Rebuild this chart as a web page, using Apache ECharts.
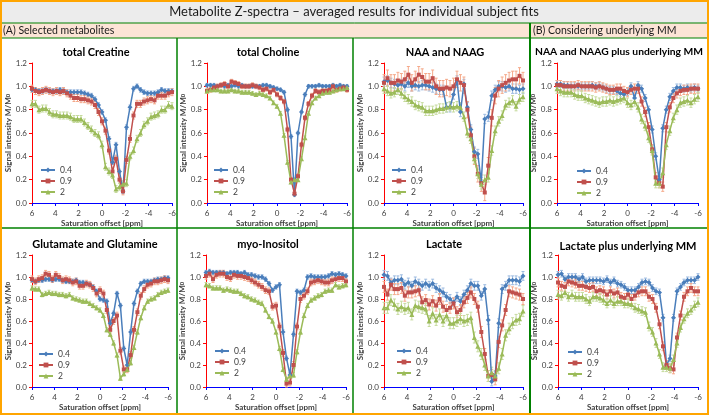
<!DOCTYPE html>
<html><head><meta charset="utf-8">
<script src="https://cdn.jsdelivr.net/npm/echarts@6/dist/echarts.min.js"></script>
<style>html,body{margin:0;padding:0;background:#fff}#c{width:709px;height:416px}</style>
</head><body><div id="c"></div>
<script>
const offsets = [6,5.7,5.4,5.1,4.8,4.5,4.2,3.9,3.6,3.3,3,2.7,2.4,2.1,1.8,1.5,1.2,0.9,0.6,0.3,0,-0.3,-0.6,-0.9,-1.2,-1.5,-1.8,-2.1,-2.4,-2.7,-3,-3.3,-3.6,-3.9,-4.2,-4.5,-4.8,-5.1,-5.4,-5.7,-6];
const seriesNames = ['0.4','0.9','2'];
const panelTitles = ['total Creatine','total Choline','NAA and NAAG','NAA and NAAG plus underlying MM','Glutamate and Glutamine','myo-Inositol','Lactate','Lactate plus underlying MM'];

const crB = [0.97,0.97,0.96,0.96,0.97,0.96,0.96,0.96,0.97,0.96,0.95,0.95,0.95,0.95,0.95,0.94,0.93,0.92,0.89,0.84,0.78,0.71,0.55,0.35,0.5,0.27,0.1,0.65,0.82,0.98,1.0,0.97,0.95,0.94,0.94,0.94,0.95,0.97,0.96,0.96,0.96];
const crR = [0.98,0.96,0.95,0.96,0.97,0.96,0.95,0.96,0.95,0.96,0.94,0.92,0.9,0.9,0.89,0.89,0.88,0.87,0.84,0.78,0.7,0.62,0.45,0.27,0.38,0.2,0.1,0.37,0.55,0.75,0.85,0.85,0.87,0.88,0.89,0.88,0.92,0.92,0.92,0.94,0.95];
const crG = [0.85,0.85,0.8,0.81,0.81,0.78,0.76,0.76,0.75,0.75,0.75,0.74,0.72,0.72,0.72,0.69,0.66,0.63,0.6,0.58,0.5,0.31,0.27,0.24,0.12,0.14,0.16,0.17,0.4,0.45,0.55,0.6,0.67,0.7,0.74,0.75,0.76,0.8,0.8,0.84,0.83];
const choB = [1.01,1.01,1.01,1.0,1.01,1.0,1.01,1.0,1.01,1.0,1.01,1.0,1.0,1.0,1.0,1.0,1.01,1.01,1.0,0.99,0.98,0.97,0.95,0.8,0.57,0.07,0.6,0.78,0.93,1.0,1.0,1.0,1.01,1.0,1.0,1.0,1.01,1.0,1.01,1.0,1.0];
const choR = [0.96,0.97,0.99,1.0,1.01,1.02,1.0,1.04,1.03,1.02,1.0,1.0,1.0,1.01,1.0,0.99,0.97,0.98,0.95,0.97,0.93,0.9,0.87,0.63,0.2,0.08,0.23,0.5,0.73,0.85,0.92,0.96,0.95,0.96,0.96,0.97,1.0,0.97,0.98,0.99,0.97];
const choG = [0.96,0.97,0.97,0.97,0.96,0.96,0.96,0.97,0.96,0.96,0.95,0.95,0.95,0.94,0.93,0.94,0.93,0.92,0.9,0.86,0.83,0.77,0.58,0.35,0.18,0.2,0.2,0.38,0.56,0.77,0.86,0.9,0.92,0.94,0.95,0.95,0.96,0.97,0.98,0.98,0.99];
const naaB = [1.04,1.05,1.03,1.02,1.01,1.02,1.0,1.03,1.0,1.01,1.0,1.01,1.01,1.0,0.99,0.98,0.97,0.97,0.82,0.82,0.93,1.05,0.78,1.02,0.82,0.63,0.44,0.42,0.18,0.72,0.74,0.92,0.97,1.0,1.0,0.99,1.0,0.98,0.98,0.97,0.98];
const naaR = [1.03,1.07,1.03,1.03,1.05,1.04,1.06,1.1,1.03,1.06,1.1,1.08,1.04,1.04,1.07,1.0,0.98,0.98,0.99,0.98,1.0,1.06,1.03,1.01,0.8,0.58,0.4,0.25,0.17,0.09,0.32,0.73,0.92,0.98,1.01,1.03,1.05,1.06,1.06,1.09,1.05];
const naaG = [0.98,0.96,0.94,0.95,0.97,0.94,0.91,0.89,0.87,0.84,0.83,0.82,0.79,0.79,0.79,0.8,0.81,0.81,0.82,0.83,0.82,0.83,0.82,0.74,0.6,0.55,0.38,0.25,0.16,0.2,0.22,0.45,0.62,0.7,0.75,0.84,0.86,0.88,0.83,0.89,0.91];
const nmB = [1.02,1.02,1.01,1.01,1.0,1.0,1.0,1.0,1.0,1.0,1.01,1.0,1.0,0.99,0.98,0.97,0.97,0.96,0.94,0.93,0.95,1.0,0.9,1.01,0.98,0.9,0.8,0.63,0.4,0.2,0.64,0.8,0.91,0.96,0.99,0.99,0.98,0.99,0.98,0.99,0.98];
const nmR = [1.01,1.01,1.0,1.0,1.0,1.0,1.01,1.0,1.0,1.0,1.0,0.99,1.0,0.99,0.98,0.97,0.97,0.98,0.98,0.96,0.95,0.97,0.98,0.98,0.87,0.78,0.65,0.46,0.22,0.17,0.14,0.65,0.82,0.9,0.94,0.96,0.97,0.97,0.98,0.98,0.98];
const nmG = [0.98,0.96,0.95,0.95,0.95,0.93,0.92,0.92,0.9,0.89,0.88,0.87,0.86,0.87,0.87,0.88,0.87,0.88,0.89,0.9,0.86,0.84,0.87,0.82,0.72,0.66,0.56,0.45,0.17,0.17,0.26,0.5,0.62,0.73,0.8,0.86,0.87,0.88,0.86,0.89,0.91];
const gluB = [0.97,0.96,0.97,0.97,0.98,0.98,0.97,0.98,0.98,0.97,0.96,0.96,0.96,0.97,0.95,0.95,0.94,0.93,0.91,0.87,0.8,0.79,0.78,0.58,0.67,0.85,0.74,0.35,0.2,0.5,0.76,0.87,0.94,0.96,0.96,0.96,0.97,0.98,0.98,0.99,0.99];
const gluR = [0.98,0.96,0.98,0.99,1.03,1.02,0.98,1.02,1.0,0.97,0.98,0.97,0.95,0.96,0.92,0.92,0.94,0.93,0.9,0.85,0.88,0.85,0.7,0.52,0.6,0.65,0.33,0.16,0.16,0.29,0.52,0.68,0.83,0.89,0.93,0.94,0.96,0.96,0.97,0.98,0.97];
const gluG = [0.9,0.89,0.89,0.84,0.85,0.86,0.85,0.85,0.84,0.84,0.83,0.84,0.81,0.8,0.79,0.78,0.78,0.76,0.74,0.72,0.7,0.65,0.52,0.48,0.4,0.29,0.08,0.12,0.16,0.22,0.36,0.5,0.63,0.72,0.78,0.8,0.81,0.84,0.86,0.87,0.88];
const myoB = [1.04,1.05,1.04,1.04,1.04,1.04,1.03,1.04,1.04,1.04,1.03,1.04,1.02,1.02,1.01,1.0,1.0,0.98,0.94,0.88,0.91,0.93,0.5,0.26,0.11,0.48,0.87,0.86,0.88,1.0,1.01,1.0,1.0,1.0,1.0,1.01,1.03,1.02,1.03,1.02,1.01];
const myoR = [1.01,1.03,0.98,1.02,1.03,1.03,1.0,0.99,1.02,1.01,1.01,1.0,0.99,0.97,0.95,0.93,0.91,0.88,0.87,0.73,0.74,0.55,0.31,0.03,0.04,0.2,0.55,0.8,0.83,0.87,0.95,0.96,0.97,0.96,0.95,0.95,0.97,0.98,0.99,0.99,0.96];
const myoG = [0.93,0.92,0.9,0.9,0.9,0.88,0.89,0.88,0.87,0.87,0.85,0.83,0.82,0.8,0.79,0.77,0.76,0.7,0.64,0.6,0.5,0.35,0.16,0.07,0.1,0.11,0.32,0.5,0.65,0.74,0.79,0.81,0.83,0.84,0.87,0.88,0.88,0.93,0.91,0.92,0.93];
const lacB = [1.02,1.01,0.95,0.97,0.97,0.98,0.93,0.95,0.92,0.96,0.94,0.92,0.94,0.92,0.94,0.9,0.88,0.86,0.82,0.8,0.77,0.82,0.78,0.84,0.88,0.94,0.92,0.92,0.83,0.89,0.61,0.05,0.1,0.58,0.89,0.92,0.97,0.97,0.97,0.96,1.01];
const lacR = [0.91,0.84,0.93,0.89,0.89,0.9,0.83,0.86,0.86,0.87,0.88,0.77,0.79,0.75,0.78,0.74,0.8,0.73,0.7,0.72,0.76,0.68,0.7,0.77,0.81,0.86,0.8,0.73,0.5,0.3,0.1,0.11,0.07,0.41,0.56,0.7,0.87,0.86,0.85,0.84,0.8];
const lacG = [0.72,0.72,0.79,0.75,0.71,0.73,0.71,0.72,0.66,0.74,0.73,0.72,0.71,0.6,0.67,0.61,0.66,0.6,0.65,0.58,0.58,0.6,0.62,0.6,0.61,0.63,0.45,0.37,0.3,0.2,0.1,0.13,0.1,0.17,0.3,0.47,0.53,0.58,0.61,0.62,0.69];
const lmB = [1.02,1.03,0.98,1.0,1.0,1.0,0.98,1.0,0.96,0.97,0.97,0.97,0.97,0.96,0.98,0.95,0.97,0.94,0.93,0.91,0.88,0.88,0.88,0.91,0.95,0.96,0.95,0.9,0.87,0.86,0.63,0.2,0.26,0.63,0.87,0.91,0.95,0.97,0.97,0.97,1.0];
const lmR = [0.95,0.92,0.91,0.96,0.95,0.94,0.92,0.92,0.91,0.9,0.91,0.87,0.88,0.87,0.84,0.87,0.85,0.86,0.82,0.81,0.84,0.8,0.83,0.86,0.87,0.87,0.82,0.8,0.72,0.57,0.37,0.2,0.17,0.16,0.45,0.65,0.82,0.87,0.9,0.87,0.87];
const lmG = [0.84,0.83,0.86,0.82,0.84,0.82,0.82,0.82,0.8,0.78,0.82,0.82,0.81,0.79,0.76,0.79,0.76,0.78,0.78,0.76,0.76,0.75,0.72,0.71,0.69,0.68,0.55,0.5,0.4,0.3,0.18,0.18,0.17,0.25,0.4,0.54,0.62,0.67,0.7,0.74,0.77];

const crErr = [0.02,0.03,0.03], choErr = [0.015,0.02,0.015], naaErr = [0.04,0.07,0.04], nmErr = [0.03,0.04,0.04];
const gluErr = [0.02,0.03,0.02], myoErr = [0.02,0.03,0.02], lacErr = [0.04,0.05,0.05], lmErr = [0.03,0.04,0.04];

const panels = [
  [crB,crR,crG,crErr],[choB,choR,choG,choErr],[naaB,naaR,naaG,naaErr],[nmB,nmR,nmG,nmErr],
  [gluB,gluR,gluG,gluErr],[myoB,myoR,myoG,myoErr],[lacB,lacR,lacG,lacErr],[lmB,lmR,lmG,lmErr]
];
const grids = [
  {left:32,top:63,width:140,height:140},{left:207,top:63,width:140,height:140},
  {left:384,top:63,width:139,height:140},{left:557,top:63,width:141,height:140},
  {left:32,top:255,width:136,height:132},{left:206,top:255,width:140,height:132},
  {left:384,top:255,width:139,height:132},{left:558,top:255,width:140,height:132}
];
const titlePos = [[96,52],[268,52],[445,52],[619,52],[95,244],[268,244],[444,244],[628,246]];
const titleSizes = [11,11,11,10.3,11,11,11,11];
const legendPos = [[40,165],[213,165],[391,165],[576,166],[38,349],[214,346],[396,346],[567,347]];
const colors = ['#4a7ebb','#c0504d','#9bbb59'];
const errColors = ['#9dbbe0','#f5a98a','#c6db9e'];
const symbols = ['diamond','rect','triangle'];
const symSizes = [5,4,5];
const FONT = 'Lato, "Open Sans", sans-serif';

const xAxes = [], yAxes = [], series = [], legends = [];
grids.forEach((g, p) => {
  xAxes.push({
    gridIndex:p, type:'value', min:-6, max:6, interval:2, inverse:true,
    name:'Saturation offset [ppm]', nameLocation:'middle', nameGap:16,
    nameTextStyle:{fontSize:8, fontWeight:'bold', color:'#404040', fontFamily:FONT},
    axisLine:{onZero:false, lineStyle:{color:'blue'}},
    axisTick:{length:3},
    axisLabel:{fontSize:8, color:'#404040', margin:6, fontFamily:FONT, formatter:v=>String(v)},
    splitLine:{show:false}
  });
  yAxes.push({
    gridIndex:p, type:'value', min:0, max:1.2, interval:0.2, position:'left',
    name:'Signal intensity M/M{s|0}', nameLocation:'middle', nameGap:19,
    nameTextStyle:{fontSize:8, fontWeight:'bold', color:'#404040', fontFamily:FONT,
      rich:{s:{fontSize:6, fontWeight:'bold', color:'#404040', fontFamily:FONT}}},
    axisLine:{show:true, onZero:false, lineStyle:{color:'red'}},
    axisTick:{show:true, length:3},
    axisLabel:{fontSize:8, color:'#404040', margin:5, fontFamily:FONT, formatter:v=>v.toFixed(1)},
    splitLine:{show:false}
  });
  const P = panels[p];
  for (let k = 0; k < 3; k++) {
    const vals = P[k], err = P[3][k], ec = errColors[k];
    series.push({
      type:'custom', name:'err'+seriesNames[k], xAxisIndex:p, yAxisIndex:p, silent:true, z:1,
      data: offsets.map((x,i)=>[x, vals[i], err]), encode:{x:0, y:1},
      renderItem:(params, api) => {
        const x = api.value(0), y = api.value(1), e = api.value(2);
        const t = api.coord([x, y+e]), b = api.coord([x, y-e]);
        return {type:'group', children:[
          {type:'line', shape:{x1:t[0],y1:t[1],x2:b[0],y2:b[1]}, style:{stroke:ec, lineWidth:1}},
          {type:'line', shape:{x1:t[0]-1.5,y1:t[1],x2:t[0]+1.5,y2:t[1]}, style:{stroke:ec, lineWidth:1}},
          {type:'line', shape:{x1:b[0]-1.5,y1:b[1],x2:b[0]+1.5,y2:b[1]}, style:{stroke:ec, lineWidth:1}}
        ]};
      }
    });
  }
  for (let k = 0; k < 3; k++) {
    const vals = P[k];
    series.push({
      type:'line', name:seriesNames[k], xAxisIndex:p, yAxisIndex:p, z:3,
      data: offsets.map((x,i)=>[x, vals[i]]),
      symbol:symbols[k], symbolSize:symSizes[k], showAllSymbol:true,
      lineStyle:{color:colors[k], width:1.5}, itemStyle:{color:colors[k]}
    });
  }
  legends.push({
    left:legendPos[p][0], top:legendPos[p][1], orient:'vertical',
    data:seriesNames, itemWidth:14, itemHeight:6, itemGap:1,
    textStyle:{fontSize:8.5, lineHeight:10, color:'#404040', fontFamily:FONT},
    padding:0, selectedMode:false
  });
});

const graphics = [
  {type:'rect', shape:{x:1,y:1,width:707,height:22}, style:{fill:'#ececec'}, z:-10},
  {type:'rect', shape:{x:1,y:23,width:707,height:15}, style:{fill:'#fce4d6'}, z:-10},
  {type:'text', x:354, y:12, style:{text:'Metabolite Z-spectra \u2013 averaged results for individual subject fits', font:'13px '+FONT, fill:'#1a1a1a', textAlign:'center', textVerticalAlign:'middle'}},
  {type:'text', x:3, y:31, style:{text:'(A) Selected metabolites', font:'10.5px '+FONT, fill:'#1a1a1a', textAlign:'left', textVerticalAlign:'middle'}},
  {type:'text', x:533, y:31, style:{text:'(B) Considering underlying MM', font:'10.5px '+FONT, fill:'#1a1a1a', textAlign:'left', textVerticalAlign:'middle'}},
  {type:'line', shape:{x1:1,y1:23,x2:708,y2:23}, style:{stroke:'green', lineWidth:1}},
  {type:'line', shape:{x1:1,y1:38,x2:708,y2:38}, style:{stroke:'green', lineWidth:1}},
  {type:'line', shape:{x1:177,y1:38,x2:177,y2:414}, style:{stroke:'green', lineWidth:1.5}},
  {type:'line', shape:{x1:353,y1:38,x2:353,y2:414}, style:{stroke:'green', lineWidth:1.5}},
  {type:'line', shape:{x1:1,y1:228,x2:530,y2:228}, style:{stroke:'green', lineWidth:1.5}},
  {type:'line', shape:{x1:530,y1:228,x2:708,y2:228}, style:{stroke:'green', lineWidth:1.5}},
  {type:'line', shape:{x1:530,y1:23,x2:530,y2:414}, style:{stroke:'green', lineWidth:2}},
  {type:'rect', shape:{x:1,y:1,width:707,height:413}, style:{fill:'none', stroke:'orange', lineWidth:2}}
];
panelTitles.forEach((t, p) => {
  graphics.push({type:'text', x:titlePos[p][0], y:titlePos[p][1],
    style:{text:t, font:'bold '+titleSizes[p]+'px '+FONT, fill:'#000', textAlign:'center', textVerticalAlign:'middle'}});
});

const chart = echarts.init(document.getElementById('c'));
chart.setOption({animation:false, grid:grids, xAxis:xAxes, yAxis:yAxes, legend:legends, series:series, graphic:graphics});
</script></body></html>
